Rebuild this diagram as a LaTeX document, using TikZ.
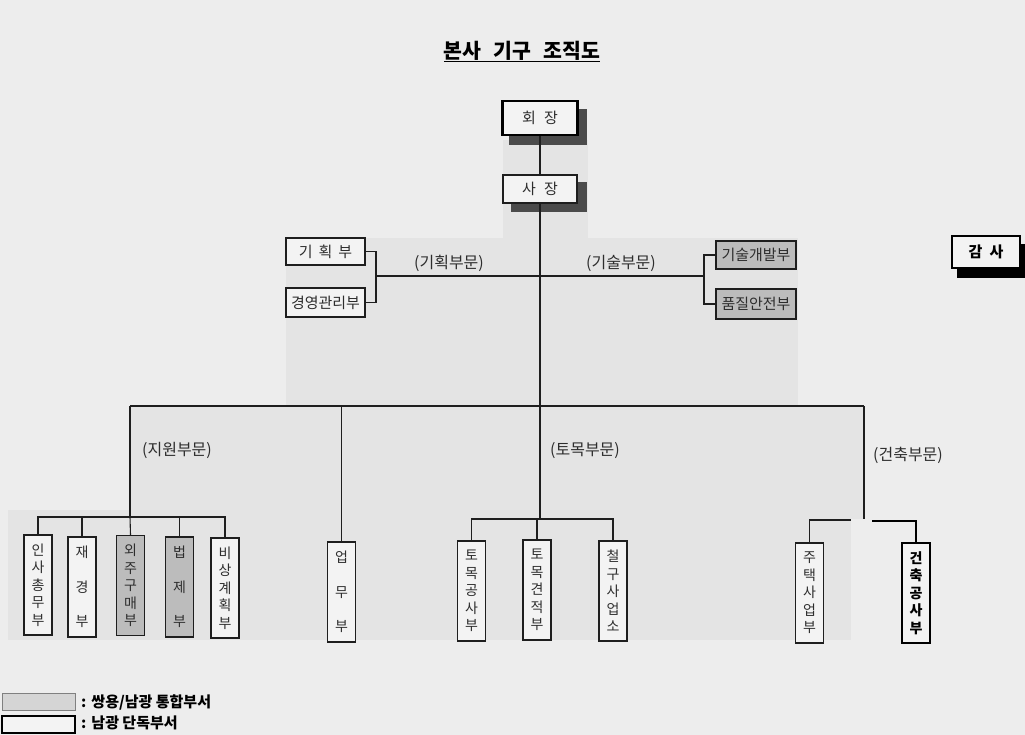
\documentclass[tikz,border=0pt]{standalone}
\usepackage{fontspec}
\setmainfont{Noto Sans CJK KR}
\definecolor{pagebg}{RGB}{237,237,237}
\definecolor{shadec}{RGB}{228,228,228}
\definecolor{boxw}{RGB}{243,243,243}
\definecolor{boxg}{RGB}{188,188,188}
\definecolor{shadowc}{RGB}{75,75,75}
\definecolor{linec}{RGB}{30,30,30}
\definecolor{txtc}{RGB}{45,45,45}
\pgfdeclarelayer{bg}
\pgfdeclarelayer{sh}
\pgfsetlayers{bg,sh,main}
\tikzset{
  conn/.style={draw=linec, line width=1.1pt},
  hbox/.style={draw=linec, line width=1.1pt, fill=boxw, inner sep=0pt, text=txtc,
    font=\fontsize{15}{15}\selectfont},
  vbox/.style={draw=linec, line width=1.1pt, fill=boxw, inner sep=0pt, text=txtc,
    minimum width=28, minimum height=100, align=center},
  five/.style={font=\fontsize{14}{17.5}\selectfont},
  three/.style={font=\fontsize{14}{34.5}\selectfont},
  grayf/.style={fill=boxg},
  heavy/.style={line width=2.4pt, draw=black},
  lbl/.style={text=txtc, font=\fontsize{16}{16}\selectfont, inner sep=0pt},
}
\begin{document}
\begin{tikzpicture}[x=1pt,y=-1pt]
\useasboundingbox (0,0) rectangle (1025,735);
\begin{pgfonlayer}{bg}
\fill[pagebg] (0,0) rectangle (1025,735);
\fill[shadec] (503,140) rectangle (588,238);
\fill[shadec] (286,238) rectangle (798,406);
\fill[shadec] (130,406) rectangle (864,519);
\fill[shadec] (8,510) rectangle (851,640);
\end{pgfonlayer}

% title
\node[inner sep=0pt, text=black, font=\fontsize{20.5}{20.5}\selectfont\bfseries] (title) at (522,51)
  {본사\hspace{12pt}기구\hspace{12pt}조직도};
\draw[line width=1.3pt] ([yshift=-1pt]title.south west) -- ([yshift=-1pt]title.south east);

% top
\node[hbox, heavy, minimum width=75, minimum height=34] (hoe) at (540,118) {회\hspace{8pt}장};
\node[hbox, minimum width=74, minimum height=28] (sa) at (540,189) {사\hspace{8pt}장};
\node[hbox, heavy, minimum width=68, minimum height=32, font=\fontsize{15}{15}\selectfont\bfseries, text=black] (gam) at (986,252) {감\hspace{7pt}사};
\begin{pgfonlayer}{sh}
\fill[shadowc] ([shift={(8,9)}]hoe.south west) rectangle ([shift={(8,9)}]hoe.north east);
\fill[shadowc] ([shift={(9,8)}]sa.south west) rectangle ([shift={(9,8)}]sa.north east);
\fill[black] ([shift={(6,9)}]gam.south west) rectangle ([shift={(6,9)}]gam.north east);
\end{pgfonlayer}

% planning / technology
\node[hbox, minimum width=79, minimum height=27] (gh) at (325.5,251.5) {기\hspace{6pt}획\hspace{6pt}부};
\node[hbox, minimum width=79, minimum height=29] (gy) at (325.5,302.5) {경영관리부};
\node[hbox, grayf, minimum width=80, minimum height=28] (kd) at (756,255) {기술개발부};
\node[hbox, grayf, minimum width=80, minimum height=30] (pq) at (756,304) {품질안전부};
\coordinate (gb) at (376,276);
\coordinate (kb) at (704,276);
\node[lbl] (lgh) at (449,263) {(기획부문)};
\node[lbl] (lkd) at (621,263) {(기술부문)};

% bottom boxes
\node[vbox, five] (ins) at (38,585) {인\\사\\총\\무\\부};
\node[vbox, three] (jk) at (82,587) {재\\경\\부};
\node[vbox, five, grayf] (oj) at (130.5,585.5) {외\\주\\구\\매\\부};
\node[vbox, three, grayf] (bj) at (179.5,587) {법\\제\\부};
\node[vbox, five] (bs) at (225,588) {비\\상\\계\\획\\부};
\node[vbox, three] (ub) at (341.5,592) {업\\무\\부};
\node[vbox, five] (tg) at (471.5,591) {토\\목\\공\\사\\부};
\node[vbox, five] (tj) at (537,590) {토\\목\\견\\적\\부};
\node[vbox, five] (cg) at (613,591) {철\\구\\사\\업\\소};
\node[vbox, five] (jt) at (809.5,593) {주\\택\\사\\업\\부};
\node[vbox, heavy, text=black, font=\fontsize{14}{17.5}\selectfont\bfseries] (gc) at (916,593) {건\\축\\공\\사\\부};

\node[lbl] (ljw) at (177,450) {(지원부문)};
\node[lbl] (ltm) at (585,451) {(토목부문)};
\node[lbl] (lgc) at (908,455) {(건축부문)};

\coordinate (hl) at (130,406);
\coordinate (hr) at (864,406);
\coordinate (jw) at (130,517);
\coordinate (tm) at (540,519);
\coordinate (ga) at (864,519);
\coordinate (gl) at (851,520);
\coordinate (gr) at (873,521);

% connectors
\draw[conn] (hoe.south) -- (sa.north);
\draw[conn] (sa.south) -- (tm);
\draw[conn] (gh.east) -| (gb) |- (gy.east);
\draw[conn] (gb) -- (kb);
\draw[conn] (kd.west) -| (kb) |- (pq.west);
\draw[conn] (hl) -- (hr);
\draw[conn] (hl) -- (jw);
\draw[conn] (ins.north) |- (bs.north |- jw) -- (bs.north);
\draw[conn] (jk.north) -- (jk.north |- jw);
\draw[conn] (bj.north) -- (bj.north |- jw);
\draw[conn] (oj.north) -- (jw);
\draw[conn] (ub.north) -- (ub.north |- hl);
\draw[conn] (tg.north) |- (cg.north |- tm) -- (cg.north);
\draw[conn] (tj.north) -- (tj.north |- tm);
\draw[conn] (hr) -- (ga);
\draw[conn] (jt.north) |- (gl);
\draw[line width=2.4pt, line cap=rect] (gr) -| (gc.north);

% legend
\node[draw=gray, line width=0.8pt, fill=boxg!55!boxw, minimum width=73, minimum height=17, inner sep=0pt] (lg1) at (38.5,701.5) {};
\node[draw=black, line width=2pt, fill=boxw, minimum width=73, minimum height=17, inner sep=0pt] (lg2) at (38.5,724.5) {};
\node[anchor=west, inner sep=0pt, font=\fontsize{15}{15}\selectfont\bfseries, text=black] (lt1) at (81,702) {:\hspace{5pt}쌍용/남광 통합부서};
\node[anchor=west, inner sep=0pt, font=\fontsize{15}{15}\selectfont\bfseries, text=black] (lt2) at (81,723) {:\hspace{5pt}남광 단독부서};
\end{tikzpicture}
\end{document}
